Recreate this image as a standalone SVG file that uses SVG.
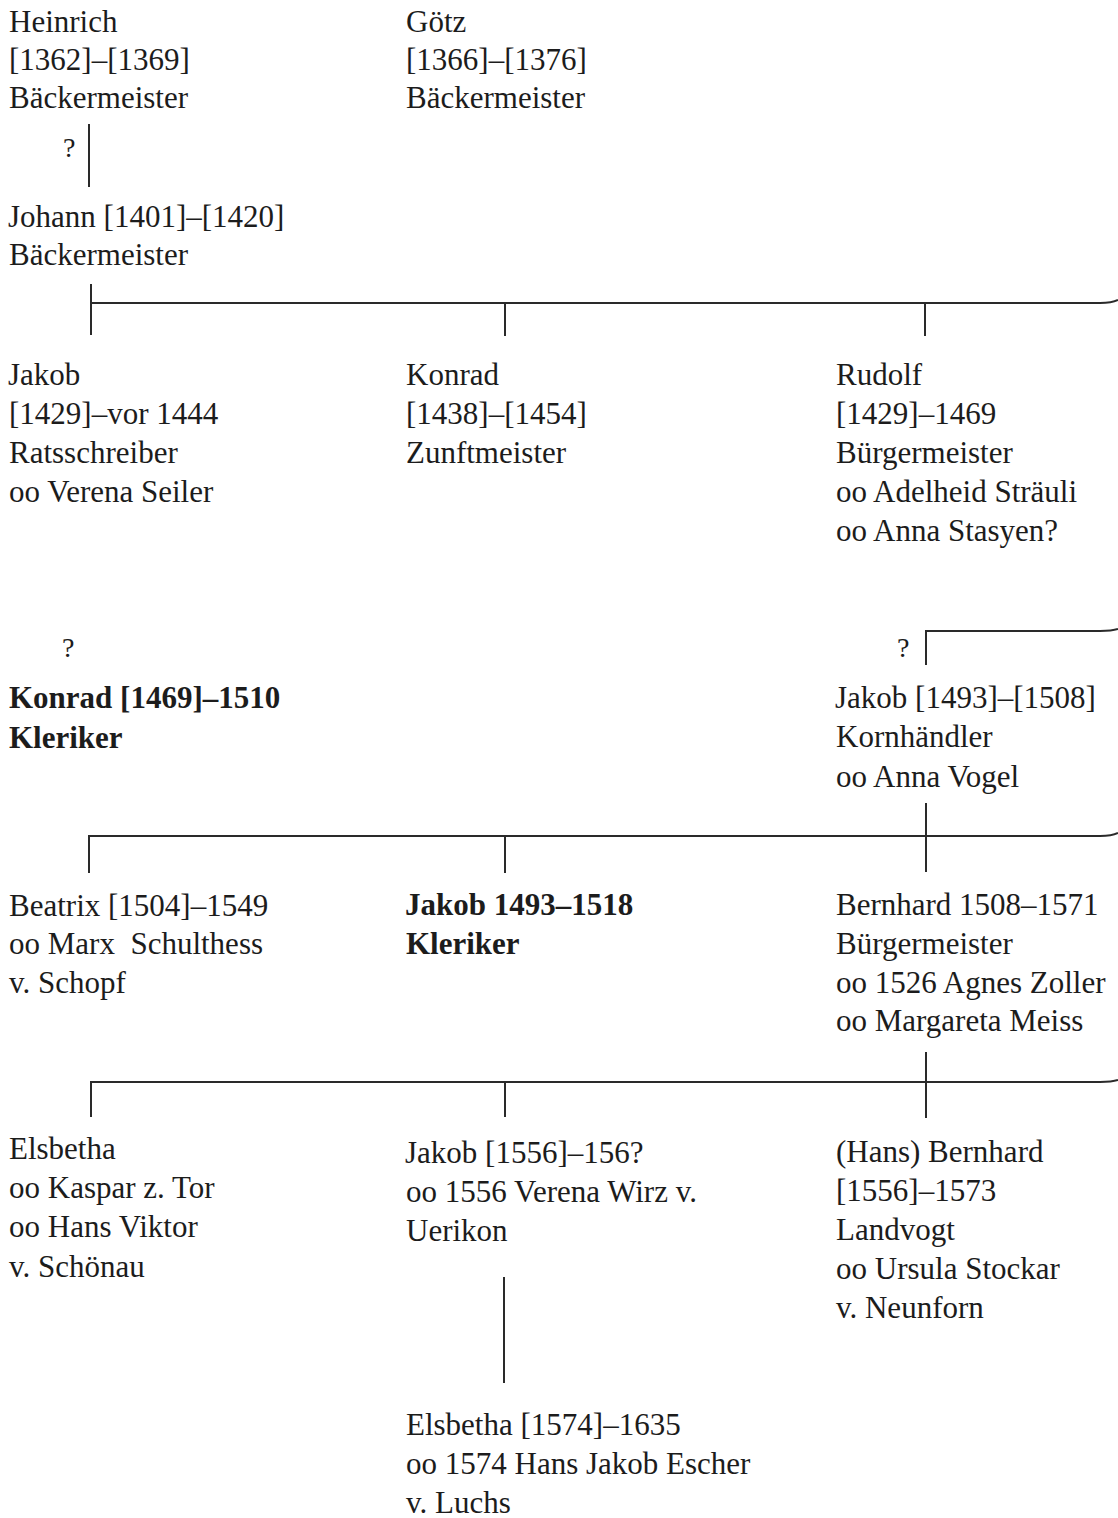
<svg xmlns="http://www.w3.org/2000/svg" width="1118" height="1518" viewBox="0 0 1118 1518">
<style>
text{font-family:"Liberation Serif","Times New Roman",serif;font-size:31px;fill:#1c1c1c;white-space:pre}
.b{font-weight:bold}
.q{font-size:28px}
#connectors path{fill:none;stroke:#2a2a2a;stroke-width:2}
</style>
<rect width="1118" height="1518" fill="#ffffff"/>
<g id="connectors">
<path d="M89 124V187"/>
<path d="M91 284V335M91 303H1100Q1112 303 1118 300M505 303V336M925 303V336"/>
<path d="M926 665V631H1100Q1112 631 1118 629"/>
<path d="M926 803V872M89 873V836H1100Q1112 836 1118 833M505 836V873"/>
<path d="M926 1052V1118M91 1117V1082H1100Q1112 1082 1118 1080M505 1082V1117"/>
<path d="M504 1277V1383"/>
</g>
<g id="q1"><text class="q" x="63" y="157">?</text></g>
<g id="q2"><text class="q" x="62" y="657">?</text></g>
<g id="q3"><text class="q" x="897" y="657">?</text></g>
<g id="heinrich"><text x="9" y="32">Heinrich</text><text x="9" y="70">[1362]–[1369]</text><text x="9" y="108">Bäckermeister</text></g>
<g id="goetz"><text x="406" y="32">Götz</text><text x="406" y="70">[1366]–[1376]</text><text x="406" y="108">Bäckermeister</text></g>
<g id="johann"><text x="8" y="227">Johann [1401]–[1420]</text><text x="9" y="265">Bäckermeister</text></g>
<g id="jakob1"><text x="8" y="385">Jakob</text><text x="9" y="424">[1429]–vor 1444</text><text x="9" y="463">Ratsschreiber</text><text x="9" y="502">oo Verena Seiler</text></g>
<g id="konrad1"><text x="406" y="385">Konrad</text><text x="406" y="424">[1438]–[1454]</text><text x="406" y="463">Zunftmeister</text></g>
<g id="rudolf"><text x="836" y="385">Rudolf</text><text x="836" y="424">[1429]–1469</text><text x="836" y="463">Bürgermeister</text><text x="836" y="502">oo Adelheid Sträuli</text><text x="836" y="541">oo Anna Stasyen?</text></g>
<g id="konrad2"><text class="b" x="9" y="708">Konrad [1469]–1510</text><text class="b" x="9" y="748">Kleriker</text></g>
<g id="jakob2"><text x="835" y="708">Jakob [1493]–[1508]</text><text x="836" y="747">Kornhändler</text><text x="836" y="787">oo Anna Vogel</text></g>
<g id="beatrix"><text x="9" y="916">Beatrix [1504]–1549</text><text x="9" y="954">oo Marx  Schulthess</text><text x="9" y="993">v. Schopf</text></g>
<g id="jakob3"><text class="b" x="405" y="915">Jakob 1493–1518</text><text class="b" x="406" y="954">Kleriker</text></g>
<g id="bernhard"><text x="836" y="915">Bernhard 1508–1571</text><text x="836" y="954">Bürgermeister</text><text x="836" y="993">oo 1526 Agnes Zoller</text><text x="836" y="1031">oo Margareta Meiss</text></g>
<g id="elsbetha1"><text x="9" y="1159">Elsbetha</text><text x="9" y="1198">oo Kaspar z. Tor</text><text x="9" y="1237">oo Hans Viktor</text><text x="9" y="1277">v. Schönau</text></g>
<g id="jakob4"><text x="405" y="1163">Jakob [1556]–156?</text><text x="406" y="1202">oo 1556 Verena Wirz v.</text><text x="406" y="1241">Uerikon</text></g>
<g id="hansbernhard"><text x="836" y="1162">(Hans) Bernhard</text><text x="836" y="1201">[1556]–1573</text><text x="836" y="1240">Landvogt</text><text x="836" y="1279">oo Ursula Stockar</text><text x="836" y="1318">v. Neunforn</text></g>
<g id="elsbetha2"><text x="406" y="1435">Elsbetha [1574]–1635</text><text x="406" y="1474">oo 1574 Hans Jakob Escher</text><text x="406" y="1513">v. Luchs</text></g>
</svg>
